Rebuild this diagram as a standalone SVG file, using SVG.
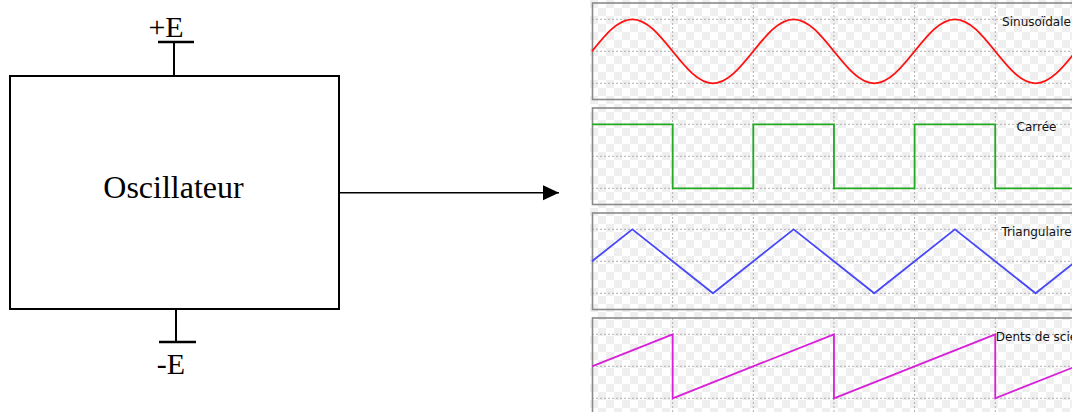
<svg xmlns="http://www.w3.org/2000/svg" xmlns:xlink="http://www.w3.org/1999/xlink" width="1072" height="412" viewBox="0 0 1072 412">
  <style>
    .blk { stroke: #000; fill: none; }
    .serif { font-family: "Liberation Serif", "Times New Roman", serif; fill: #000; }
    .lbl { font-family: "DejaVu Sans", "Liberation Sans", sans-serif; font-size: 12px; fill: #111; text-anchor: middle; }
    .frame { fill: none; stroke: #8a8a8a; stroke-width: 1.6; }
    .grid { stroke: #b0b0b0; stroke-width: 1; stroke-dasharray: 2 2; fill: none; }
    .wave { fill: none; stroke-width: 1.8; stroke-linejoin: miter; }
  </style>
  <defs>
    <pattern id="checker" x="590" y="0" width="16" height="16" patternUnits="userSpaceOnUse">
      <rect width="16" height="16" fill="#ffffff"/>
      <rect width="8" height="8" fill="#efefef"/>
      <rect x="8" y="8" width="8" height="8" fill="#efefef"/>
    </pattern>
    <marker id="arrow" markerUnits="userSpaceOnUse" viewBox="0 0 16 16" markerWidth="16" markerHeight="16" refX="16" refY="8" orient="auto">
      <path d="M0,0.5 L16,8 L0,15.5 z" fill="#000"/>
    </marker>
    <g id="panelbg">
      <path class="grid" d="M592,19.3 H1072 M592,51.3 H1072 M592,83.3 H1072 M672.65,3 V99.5 M753.3,3 V99.5 M833.95,3 V99.5 M914.6,3 V99.5 M995.25,3 V99.5"/>
      <rect class="frame" x="592.5" y="3" width="500" height="96.5"/>
    </g>
  </defs>

  <rect x="590" y="0" width="482" height="412" fill="url(#checker)"/>

  <g id="oscillateur">
    <rect class="blk" x="10" y="76" width="329" height="233" stroke-width="2"/>
    <text class="serif" x="173.5" y="198" font-size="32" text-anchor="middle">Oscillateur</text>
  </g>

  <g id="alim-plus">
    <path class="blk" d="M174,42 V76" stroke-width="2"/>
    <path class="blk" d="M158,42 H194" stroke-width="2.5"/>
    <text class="serif" x="166" y="37" font-size="30" text-anchor="middle">+E</text>
  </g>

  <g id="alim-moins">
    <path class="blk" d="M176,309 V342" stroke-width="2"/>
    <path class="blk" d="M159,342 H196" stroke-width="2.5"/>
    <text class="serif" x="171" y="374" font-size="30" text-anchor="middle">-E</text>
  </g>

  <g id="connectors">
    <path class="blk" d="M339,192.7 H559" stroke-width="1.5" marker-end="url(#arrow)"/>
  </g>

  <g id="sinusoidale">
    <use xlink:href="#panelbg"/>
    <path class="wave" stroke="#ff1010" d="M592,51.3 C605.15,34.91 617.73,19.3 632.33,19.3 S659.5,34.91 672.65,51.3 S698.38,83.3 712.98,83.3 S740.15,67.69 753.3,51.3 S779.03,19.3 793.63,19.3 S820.8,34.91 833.95,51.3 S859.68,83.3 874.28,83.3 S901.45,67.69 914.6,51.3 S940.33,19.3 954.93,19.3 S982.1,34.91 995.25,51.3 S1020.98,83.3 1035.58,83.3 S1062.75,67.69 1075.9,51.3"/>
    <text class="lbl" x="1036.5" y="25.7">Sinusoïdale</text>
  </g>

  <g id="carree">
    <use xlink:href="#panelbg" y="105"/>
    <path class="wave" stroke="#22aa22" d="M592,124.3 H672.65 V188.3 H753.3 V124.3 H833.95 V188.3 H914.6 V124.3 H995.25 V188.3 H1076"/>
    <text class="lbl" x="1036.5" y="130.7">Carrée</text>
  </g>

  <g id="triangulaire">
    <use xlink:href="#panelbg" y="210"/>
    <path class="wave" stroke="#4848f8" d="M592,261.3 L632.33,229.3 L712.98,293.3 L793.63,229.3 L874.28,293.3 L954.93,229.3 L1035.58,293.3 L1075.9,261.3"/>
    <text class="lbl" x="1036.5" y="235.7">Triangulaire</text>
  </g>

  <g id="dents-de-scie">
    <use xlink:href="#panelbg" y="315"/>
    <path class="wave" stroke="#d820d8" d="M592,366.3 L672.65,334.3 V398.3 L833.95,334.3 V398.3 L995.25,334.3 V398.3 L1076,366.3"/>
    <text class="lbl" x="1036.5" y="340.7">Dents de scie</text>
  </g>
</svg>
